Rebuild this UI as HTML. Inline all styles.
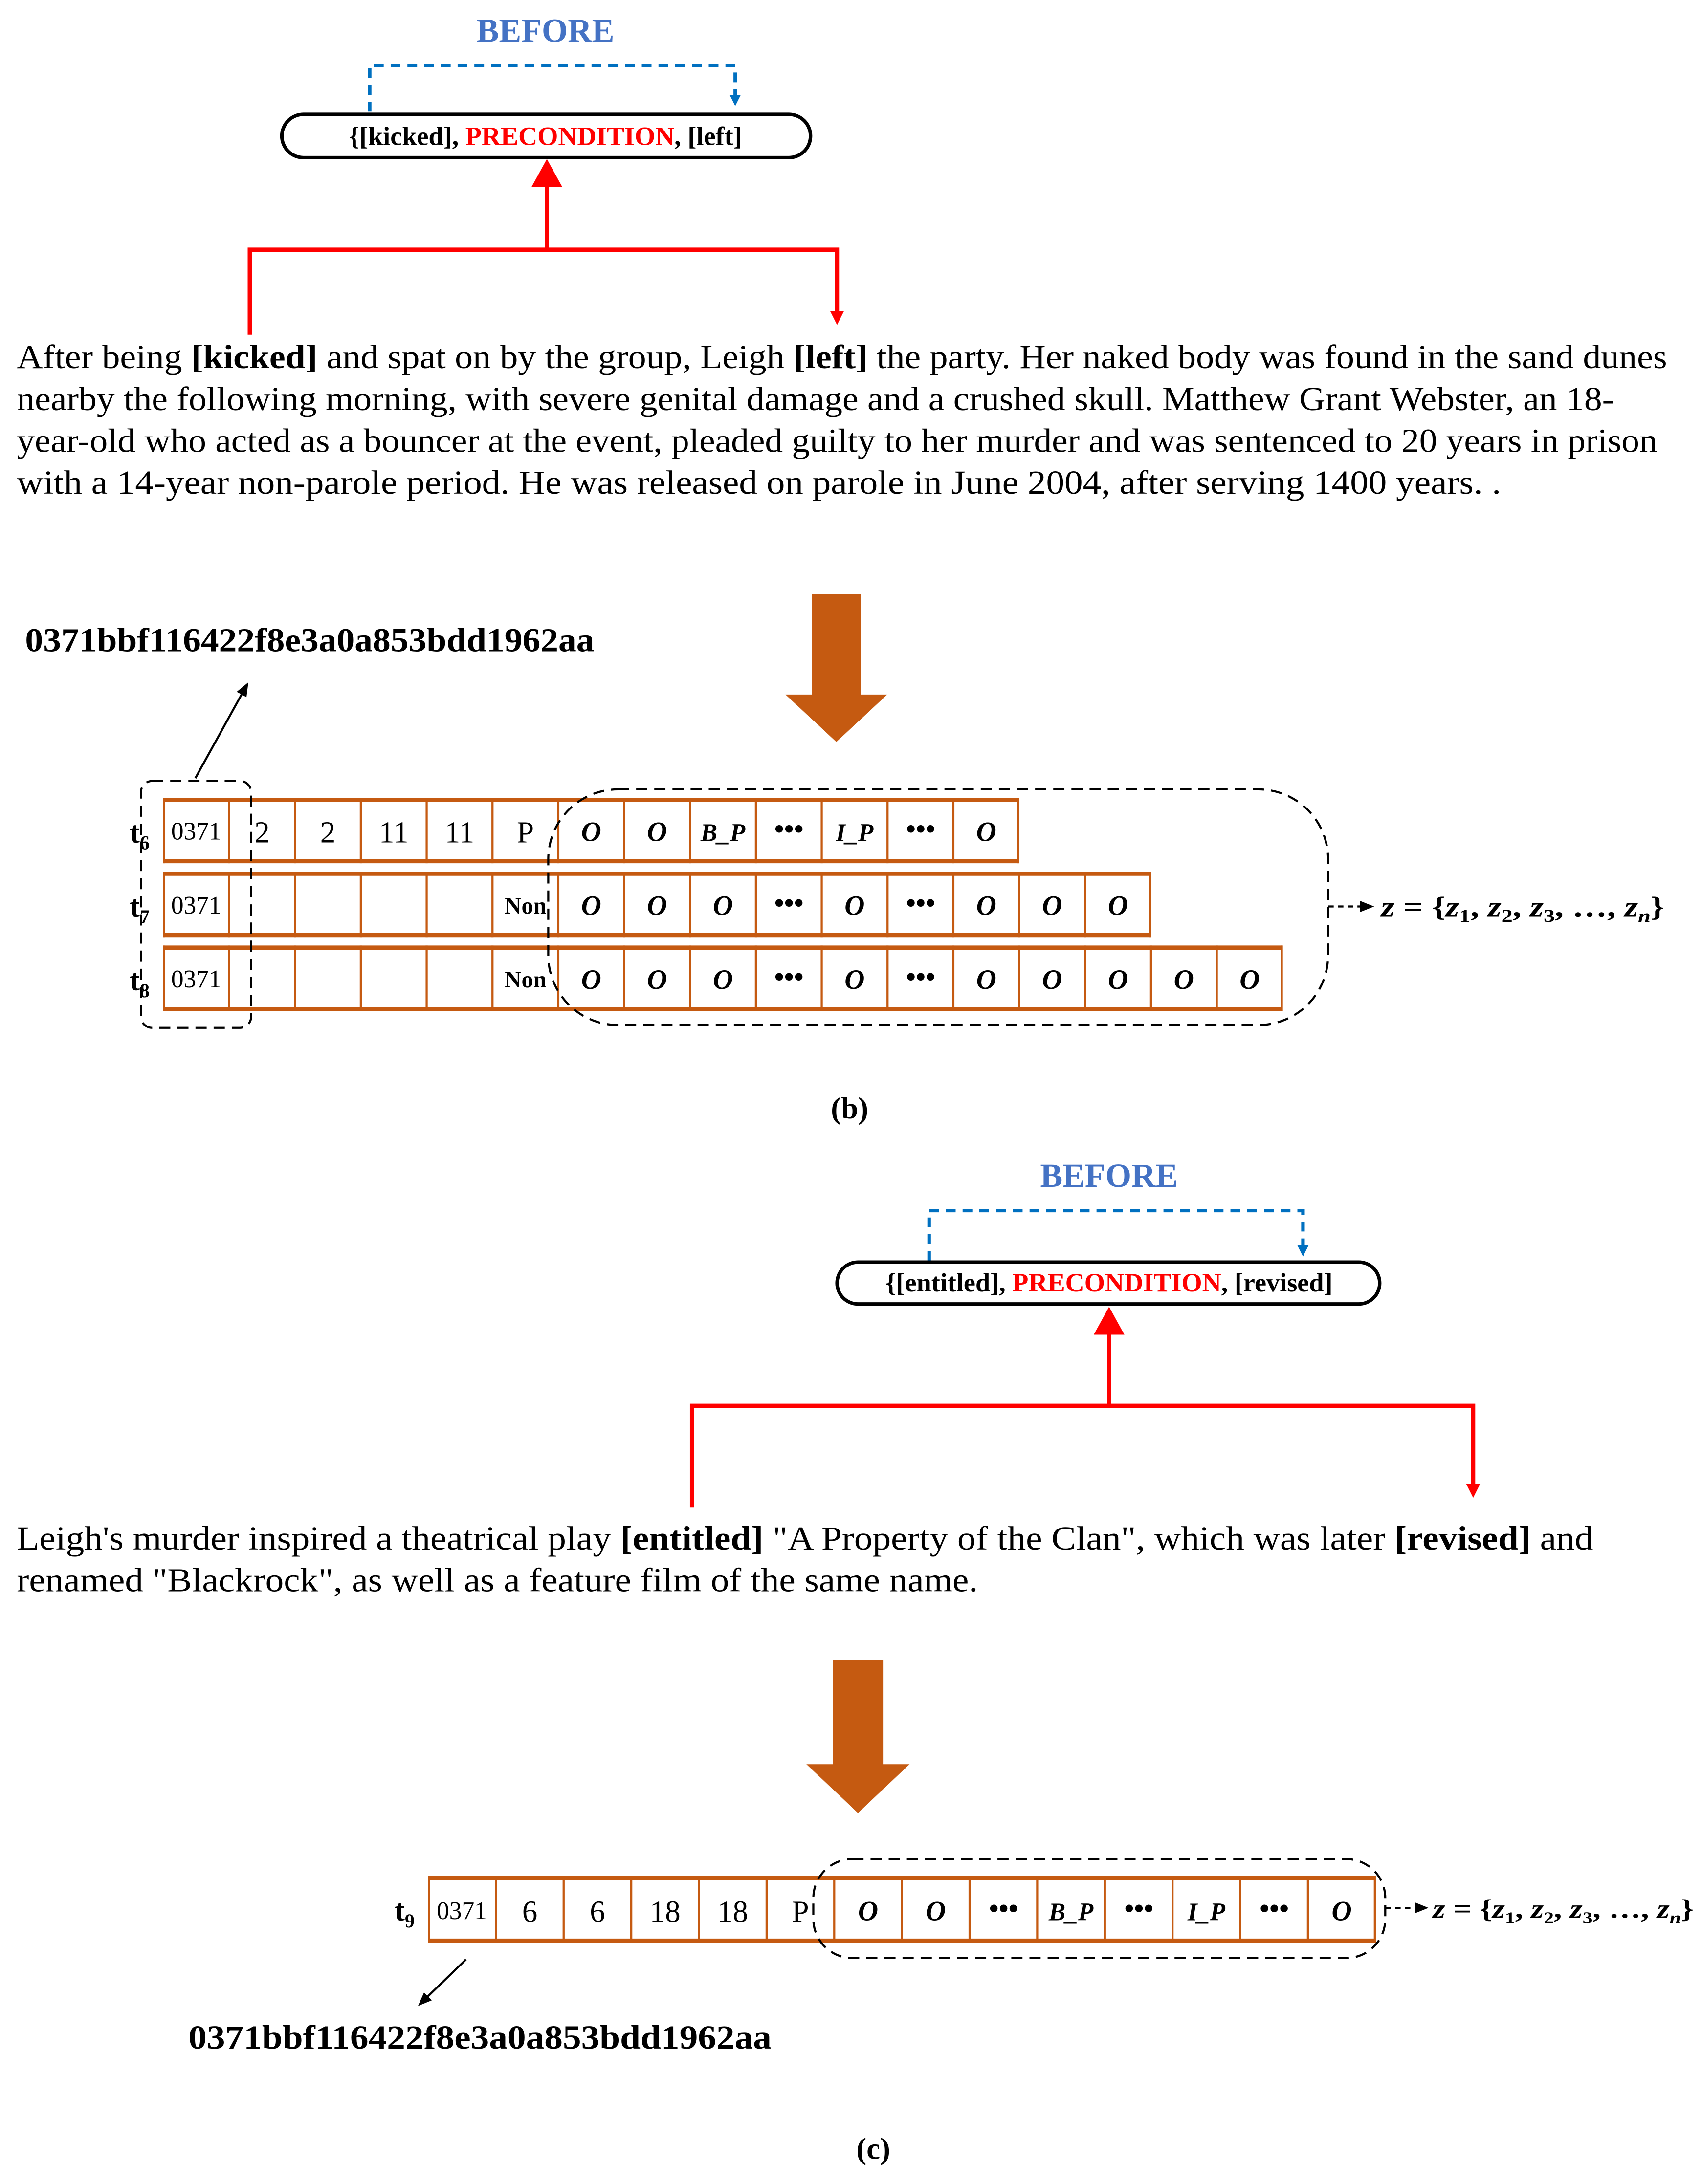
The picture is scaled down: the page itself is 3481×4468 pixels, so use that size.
<!DOCTYPE html>
<html><head><meta charset="utf-8"><style>
html,body{margin:0;padding:0;background:#fff;}
svg{display:block;font-family:"Liberation Serif","Times New Roman",serif;}
text{font-family:"Liberation Serif","Times New Roman",serif;}
.c{text-anchor:middle;}
.p{font-size:24px;}
.n{font-size:22px;}
.s{font-size:18px;}
.o{font-size:20px;font-weight:bold;font-style:italic;}
.b{font-weight:bold;}
</style></head><body>
<svg width="3481" height="4468" viewBox="0 0 1220 1566" xmlns="http://www.w3.org/2000/svg" font-family="Liberation Serif, serif">
<defs>
<marker id="rh" markerWidth="10" markerHeight="10" refX="5" refY="5" orient="auto" markerUnits="userSpaceOnUse"><path d="M0,0 L10,5 L0,10 z" fill="#f00"/></marker>
<marker id="bh" markerWidth="8" markerHeight="8" refX="4" refY="4" orient="auto" markerUnits="userSpaceOnUse"><path d="M0,0 L8,4 L0,8 z" fill="#0070C0"/></marker>
<marker id="kh" markerWidth="10" markerHeight="10" refX="8" refY="5" orient="auto" markerUnits="userSpaceOnUse"><path d="M0,1 L10,5 L0,9 z" fill="#000"/></marker>
</defs>

<text x="391" y="30" class="c b" font-size="24" fill="#4472C4">BEFORE</text>
<path d="M265,80 V47 H527 V72" fill="none" stroke="#0070C0" stroke-width="2.5" stroke-dasharray="7,5" marker-end="url(#bh)"/>
<rect x="202" y="82" width="379" height="31" rx="15.5" fill="#fff" stroke="#000" stroke-width="2.5"/>
<text x="391" y="104" class="c b" font-size="19">{[kicked], <tspan fill="#f00">PRECONDITION</tspan>, [left]</text>
<path d="M179,240 V179 H600 V228" fill="none" stroke="#f00" stroke-width="3" marker-end="url(#rh)"/>
<path d="M392,179 V126" fill="none" stroke="#f00" stroke-width="3"/>
<path d="M381,134 L392,114 L403,134 z" fill="#f00"/>

<text x="12" y="264" class="p" textLength="1183" lengthAdjust="spacingAndGlyphs">After being <tspan class="b">[kicked]</tspan>  and spat on by the group, Leigh <tspan class="b">[left]</tspan> the party. Her naked body was found in the sand dunes</text>
<text x="12" y="294" class="p" textLength="1145" lengthAdjust="spacingAndGlyphs">nearby the following morning, with severe genital damage and a crushed skull. Matthew Grant Webster, an 18-</text>
<text x="12" y="324" class="p" textLength="1176" lengthAdjust="spacingAndGlyphs">year-old who acted as a bouncer at the event, pleaded guilty to her murder and was sentenced to 20 years in prison</text>
<text x="12" y="354" class="p" textLength="1064" lengthAdjust="spacingAndGlyphs">with a 14-year non-parole period. He was released on parole in June 2004, after serving 1400 years. .</text>

<path d="M582,426 H617 V498 H636 L599.5,532 L563,498 H582 z" fill="#C55A11"/>

<text x="18" y="467" class="b" font-size="24" textLength="408" lengthAdjust="spacingAndGlyphs">0371bbf116422f8e3a0a853bdd1962aa</text>
<line x1="140" y1="558" x2="177" y2="491" stroke="#000" stroke-width="1.5" marker-end="url(#kh)"/>

<g fill="#fff" stroke="none">
<rect x="117" y="572" width="613.6" height="47"/>
<rect x="117" y="625" width="708" height="47"/>
<rect x="117" y="678" width="802.4" height="47"/>
</g>
<g stroke="#C55A11" stroke-width="3">
<path d="M117,573.5H730.6M117,617.5H730.6M117,626.5H825M117,670.5H825M117,679.5H919.4M117,723.5H919.4"/>
</g>
<g stroke="#C55A11" stroke-width="1.5">
<path d="M117.5,572V619M730,572V619M117.5,625V672M824.5,625V672M117.5,678V725M918.8,678V725"/>
<path d="M164.2,572V619M211.4,572V619M258.6,572V619M305.8,572V619M353,572V619M400.2,572V619M447.4,572V619M494.6,572V619M541.8,572V619M589,572V619M636.2,572V619M683.4,572V619"/>
<path d="M164.2,625V672M211.4,625V672M258.6,625V672M305.8,625V672M353,625V672M400.2,625V672M447.4,625V672M494.6,625V672M541.8,625V672M589,625V672M636.2,625V672M683.4,625V672M730.6,625V672M777.8,625V672"/>
<path d="M164.2,678V725M211.4,678V725M258.6,678V725M305.8,678V725M353,678V725M400.2,678V725M447.4,678V725M494.6,678V725M541.8,678V725M589,678V725M636.2,678V725M683.4,678V725M730.6,678V725M777.8,678V725M825,678V725M872.2,678V725"/>
</g>
<g class="c">
<text x="100" y="604" class="b" font-size="22">t<tspan font-size="14" dy="5">6</tspan></text>
<text x="100" y="657" class="b" font-size="22">t<tspan font-size="14" dy="5">7</tspan></text>
<text x="100" y="710" class="b" font-size="22">t<tspan font-size="14" dy="5">8</tspan></text>
<text x="140.6" y="602" class="s c">0371</text>
<text x="140.6" y="655" class="s c">0371</text>
<text x="140.6" y="708" class="s c">0371</text>
<text x="187.8" y="604" class="n c">2</text>
<text x="235" y="604" class="n c">2</text>
<text x="282.2" y="604" class="n c">11</text>
<text x="329.4" y="604" class="n c">11</text>
<text x="376.6" y="604" class="n c">P</text>
<text x="376.6" y="655" class="c b" font-size="17">Non</text>
<text x="376.6" y="708" class="c b" font-size="17">Non</text>
</g>
<g class="o" text-anchor="middle">
<text x="423.8" y="603">O</text><text x="471" y="603">O</text><text x="518.2" y="603" font-size="18">B_P</text><text x="565.4" y="601">•••</text><text x="612.6" y="603" font-size="18">I_P</text><text x="659.8" y="601">•••</text><text x="707" y="603">O</text>
<text x="423.8" y="656">O</text><text x="471" y="656">O</text><text x="518.2" y="656">O</text><text x="565.4" y="654">•••</text><text x="612.6" y="656">O</text><text x="659.8" y="654">•••</text><text x="707" y="656">O</text><text x="754.2" y="656">O</text><text x="801.4" y="656">O</text>
<text x="423.8" y="709">O</text><text x="471" y="709">O</text><text x="518.2" y="709">O</text><text x="565.4" y="707">•••</text><text x="612.6" y="709">O</text><text x="659.8" y="707">•••</text><text x="707" y="709">O</text><text x="754.2" y="709">O</text><text x="801.4" y="709">O</text><text x="848.6" y="709">O</text><text x="895.8" y="709">O</text>
</g>
<rect x="101" y="560" width="79" height="177" rx="8" fill="none" stroke="#000" stroke-width="1.5" stroke-dasharray="8,5"/>
<rect x="393" y="566" width="559" height="169" rx="50" fill="none" stroke="#000" stroke-width="1.5" stroke-dasharray="8,5"/>
<line x1="952" y1="650" x2="983" y2="650" stroke="#000" stroke-width="1.5" stroke-dasharray="4,3" marker-end="url(#kh)"/>
<text x="990" y="657" class="b" font-size="20" textLength="203" lengthAdjust="spacingAndGlyphs"><tspan font-style="italic">z</tspan> = {<tspan font-style="italic">z</tspan><tspan font-size="13" dy="4">1</tspan><tspan dy="-4">, </tspan><tspan font-style="italic">z</tspan><tspan font-size="13" dy="4">2</tspan><tspan dy="-4">, </tspan><tspan font-style="italic">z</tspan><tspan font-size="13" dy="4">3</tspan><tspan dy="-4">, …, </tspan><tspan font-style="italic">z</tspan><tspan font-size="13" dy="4" font-style="italic">n</tspan><tspan dy="-4">}</tspan></text>
<text x="609" y="802" class="c b" font-size="22">(b)</text>

<text x="795" y="851" class="c b" font-size="24" fill="#4472C4">BEFORE</text>
<path d="M666,904 V868 H934 V897" fill="none" stroke="#0070C0" stroke-width="2.5" stroke-dasharray="7,5" marker-end="url(#bh)"/>
<rect x="600" y="905" width="389" height="30" rx="15" fill="#fff" stroke="#000" stroke-width="2.5"/>
<text x="795" y="926" class="c b" font-size="19">{[entitled], <tspan fill="#f00">PRECONDITION</tspan>, [revised]</text>
<path d="M496,1081 V1008 H1056 V1069" fill="none" stroke="#f00" stroke-width="3" marker-end="url(#rh)"/>
<path d="M795,1008 V950" fill="none" stroke="#f00" stroke-width="3"/>
<path d="M784,957 L795,937 L806,957 z" fill="#f00"/>

<text x="12" y="1111" class="p" textLength="1130" lengthAdjust="spacingAndGlyphs">Leigh's murder inspired a theatrical play <tspan class="b">[entitled]</tspan> "A Property of the Clan", which was later <tspan class="b">[revised]</tspan> and</text>
<text x="12" y="1141" class="p" textLength="689" lengthAdjust="spacingAndGlyphs">renamed "Blackrock", as well as a feature film of the same name.</text>

<path d="M597,1190 H633 V1265 H652 L615,1300 L578,1265 H597 z" fill="#C55A11"/>

<rect x="307" y="1345" width="679" height="48" fill="#fff" stroke="none"/>
<path stroke="#C55A11" stroke-width="3" d="M307,1346.5H986M307,1391.5H986"/>
<path stroke="#C55A11" stroke-width="1.5" d="M307.5,1345V1393M985.5,1345V1393M355.5,1345V1393M404,1345V1393M452.5,1345V1393M501,1345V1393M549.5,1345V1393M598,1345V1393M646.5,1345V1393M695,1345V1393M743.5,1345V1393M792,1345V1393M840.5,1345V1393M889,1345V1393M937.5,1345V1393"/>
<text x="290" y="1377" class="c b" font-size="22">t<tspan font-size="14" dy="5">9</tspan></text>
<text x="331" y="1376" class="s c">0371</text>
<text x="379.75" y="1378" class="n c">6</text>
<text x="428.25" y="1378" class="n c">6</text>
<text x="476.75" y="1378" class="n c">18</text>
<text x="525.25" y="1378" class="n c">18</text>
<text x="573.75" y="1378" class="n c">P</text>
<g class="o" text-anchor="middle">
<text x="622.25" y="1377">O</text><text x="670.75" y="1377">O</text><text x="719.25" y="1375">•••</text><text x="767.75" y="1377" font-size="18">B_P</text><text x="816.25" y="1375">•••</text><text x="864.75" y="1377" font-size="18">I_P</text><text x="913.25" y="1375">•••</text><text x="961.75" y="1377">O</text>
</g>
<rect x="583" y="1333" width="410" height="71" rx="28" fill="none" stroke="#000" stroke-width="1.5" stroke-dasharray="8,5"/>
<line x1="993" y1="1368" x2="1022" y2="1368" stroke="#000" stroke-width="1.5" stroke-dasharray="4,3" marker-end="url(#kh)"/>
<text x="1027" y="1375" class="b" font-size="19" textLength="187" lengthAdjust="spacingAndGlyphs"><tspan font-style="italic">z</tspan> = {<tspan font-style="italic">z</tspan><tspan font-size="12" dy="4">1</tspan><tspan dy="-4">, </tspan><tspan font-style="italic">z</tspan><tspan font-size="12" dy="4">2</tspan><tspan dy="-4">, </tspan><tspan font-style="italic">z</tspan><tspan font-size="12" dy="4">3</tspan><tspan dy="-4">, …, </tspan><tspan font-style="italic">z</tspan><tspan font-size="12" dy="4" font-style="italic">n</tspan><tspan dy="-4">}</tspan></text>
<line x1="334" y1="1405" x2="301" y2="1437" stroke="#000" stroke-width="1.5" marker-end="url(#kh)"/>
<text x="135" y="1469" class="b" font-size="24" textLength="418" lengthAdjust="spacingAndGlyphs">0371bbf116422f8e3a0a853bdd1962aa</text>
<text x="626" y="1548" class="c b" font-size="22">(c)</text>
</svg>
</body></html>
